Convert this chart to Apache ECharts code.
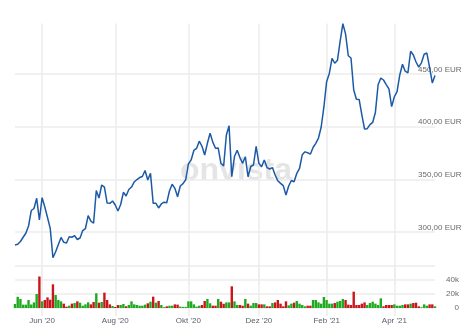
<!DOCTYPE html>
<html>
<head>
<meta charset="utf-8">
<script src="https://cdn.jsdelivr.net/npm/echarts@6/dist/echarts.min.js"></script>
<style>
html,body{margin:0;padding:0;background:#fff;}
#chart{width:473px;height:332px;}
</style>
</head>
<body>
<div id="chart"></div>
<script>
// Closing prices (EUR), one per sample point
const priceEUR = [
  287.7, 288.3, 291.0, 295.0, 298.8, 305.7, 320.4, 322.3, 332.0, 311.4,
  332.6, 323.7, 313.8, 303.5, 275.6, 281.3, 288.1, 294.8, 290.2, 289.6,
  295.5, 295.0, 296.5, 292.9, 294.3, 301.4, 303.3, 315.5, 310.4, 308.3,
  339.4, 332.3, 344.6, 342.7, 327.5, 327.2, 329.4, 325.6, 319.9, 326.1,
  337.7, 334.2, 340.3, 342.7, 347.5, 349.8, 351.7, 352.7, 358.4, 349.4,
  355.7, 327.2, 327.2, 322.8, 326.6, 328.3, 327.7, 338.9, 345.4, 341.5,
  333.5, 343.7, 345.9, 349.6, 364.6, 368.4, 377.4, 379.3, 386.2, 381.4,
  373.1, 384.2, 393.7, 385.3, 379.5, 379.7, 365.2, 362.7, 392.1, 400.8,
  352.5, 371.7, 377.6, 370.7, 365.2, 371.5, 352.5, 362.2, 363.6, 381.2,
  365.2, 362.0, 368.4, 361.2, 359.8, 361.2, 354.1, 348.6, 346.2, 344.0,
  335.1, 343.7, 348.9, 347.7, 355.7, 360.3, 373.3, 376.1, 375.3, 373.9,
  380.2, 384.2, 389.2, 399.7, 418.7, 442.7, 450.5, 464.9, 460.2, 463.0,
  481.3, 497.8, 487.8, 467.3, 465.2, 434.8, 426.1, 425.8, 411.1, 397.8,
  398.1, 401.9, 404.0, 413.4, 439.8, 446.2, 444.3, 440.0, 435.8, 419.0,
  428.4, 433.2, 449.1, 459.2, 452.7, 451.1, 471.6, 468.0, 461.4, 456.6,
  460.6, 468.7, 469.9, 456.2, 441.5, 448.6
];

// Traded volume in thousands, same sample points
const volumeK = [
  5.7, 16, 12.9, 4.8, 4.8, 11.4, 5, 8, 20, 45,
  9.5, 11.4, 15.2, 11.9, 33.8, 18.6, 11.4, 9.5, 6.2, 2,
  3.3, 6.2, 7.1, 9.5, 7.6, 3.3, 5.2, 8.1, 5.2, 8.6,
  21, 7.6, 8.6, 21.9, 11.4, 5.2, 2.9, 1.4, 4.3, 4.3,
  5.7, 2.4, 4.3, 9.5, 5.2, 4.3, 3.3, 3.3, 4.8, 6.7,
  9, 16.2, 7.6, 10, 4.3, 1.2, 2.4, 3.3, 3.3, 5.2,
  4.8, 2, 1.5, 1.5, 9.5, 9.5, 5.2, 2, 3.3, 4.3,
  10, 12.9, 6.7, 3.3, 3.3, 12.9, 9, 6, 8, 8,
  31, 9.5, 4.3, 4.3, 3.3, 12.9, 6.2, 3.3, 7.1, 7.1,
  5.2, 5.2, 5.2, 2.4, 2.4, 7.1, 8, 11.4, 6.2, 2.4,
  9.5, 3.8, 6.2, 7.6, 10, 6.2, 4.3, 2.4, 3.3, 3.3,
  11.4, 11.4, 8, 6.2, 15.7, 11.4, 6.2, 6.2, 7.1, 9,
  10, 12.9, 11.4, 4.8, 4.3, 23.3, 4.3, 4.3, 6.2, 8,
  4.3, 7.1, 9, 6.2, 4.3, 13.8, 2.4, 4.3, 4.3, 4.3,
  5.2, 3.3, 3.3, 4.3, 5.2, 5.2, 6.2, 7.1, 7.6, 2.4,
  1, 5.2, 3.3, 5.2, 5.2, 2.4
];

// Sample point categories
const categories = priceEUR.map((_, i) => 'P' + (i + 1));

// Month tick labels and the sample point each one sits on
const monthTickIndex = [10, 37, 64, 90, 115, 140];
const monthTickLabels = ["Jun '20", "Aug '20", "Okt '20", "Dez '20", "Feb '21", "Apr '21"];

// Axis tick values
const priceAxis = { min: 250, max: 498, interval: 50 };
const volumeAxis = { min: 0, max: 60, interval: 20 };

const UP = '#1eaa1e', DOWN = '#c8161d', LINE = '#1c5aa6', GRID = '#ececec';

const tickMap = {};
monthTickIndex.forEach((idx, k) => { tickMap[idx] = monthTickLabels[k]; });
const isTick = (idx) => tickMap.hasOwnProperty(idx);

const volData = volumeK.map((v, i) => ({
  value: v,
  itemStyle: { color: (i === 0 || priceEUR[i] >= priceEUR[i - 1]) ? UP : DOWN }
}));

const chart = echarts.init(document.getElementById('chart'), null, { renderer: 'canvas' });
chart.setOption({
  animation: false,
  backgroundColor: '#fff',
  graphic: [{
    type: 'text',
    z: 0,
    silent: true,
    style: {
      x: 236, y: 171,
      text: 'onvista',
      textAlign: 'center',
      textVerticalAlign: 'middle',
      font: 'bold 32px "Liberation Sans", Arial, sans-serif',
      fill: '#e5e5e5'
    }
  }],
  grid: [
    { left: 15, right: 38, top: 23.44, height: 261.23 },
    { left: 15, right: 38, top: 266, height: 42 }
  ],
  xAxis: [
    {
      type: 'category', gridIndex: 0, data: categories, boundaryGap: false,
      axisLine: { show: false }, axisTick: { show: false }, axisLabel: { show: false },
      splitLine: { show: true, interval: (i) => isTick(i), lineStyle: { color: GRID, width: 1.5 } }
    },
    {
      type: 'category', gridIndex: 1, data: categories, boundaryGap: false,
      axisLine: { show: false },
      axisTick: { show: true, interval: (i) => isTick(i), length: 8, lineStyle: { color: GRID, width: 1.5 } },
      splitLine: { show: true, interval: (i) => isTick(i), lineStyle: { color: GRID, width: 1.5 } },
      axisLabel: {
        show: true, interval: (i) => isTick(i), margin: 9,
        formatter: (v, i) => tickMap[i] || '',
        fontSize: 8, color: '#59606b', fontFamily: '"Liberation Sans", Arial, sans-serif'
      }
    }
  ],
  yAxis: [
    {
      type: 'value', gridIndex: 0, position: 'right',
      min: priceAxis.min, max: priceAxis.max, interval: priceAxis.interval,
      axisLine: { show: false }, axisTick: { show: false },
      splitLine: { show: true, showMinLine: false, showMaxLine: false, lineStyle: { color: GRID, width: 1.5 } },
      axisLabel: {
        show: true, showMinLabel: false, showMaxLabel: false,
        margin: -17, align: 'left', verticalAlign: 'bottom', lineHeight: 9,
        fontSize: 8, color: '#6a6a6a', fontFamily: '"Liberation Sans", Arial, sans-serif',
        formatter: (v) => v.toFixed(2).replace('.', ',') + ' EUR'
      }
    },
    {
      type: 'value', gridIndex: 1, position: 'right',
      min: volumeAxis.min, max: volumeAxis.max, interval: volumeAxis.interval,
      axisLine: { show: false }, axisTick: { show: false },
      splitLine: { show: true, lineStyle: { color: GRID, width: 1.5 } },
      axisLabel: {
        show: true, showMaxLabel: false, margin: 24, align: 'right',
        fontSize: 8, color: '#6a6a6a', fontFamily: '"Liberation Sans", Arial, sans-serif',
        formatter: (v) => v === 0 ? '0' : v + 'k'
      }
    }
  ],
  series: [
    {
      type: 'line', xAxisIndex: 0, yAxisIndex: 0, data: priceEUR,
      showSymbol: false, lineStyle: { color: LINE, width: 1.5 }, z: 3
    },
    {
      type: 'bar', xAxisIndex: 1, yAxisIndex: 1, data: volData,
      barWidth: 2.4, z: 2
    }
  ]
});
</script>
</body>
</html>
